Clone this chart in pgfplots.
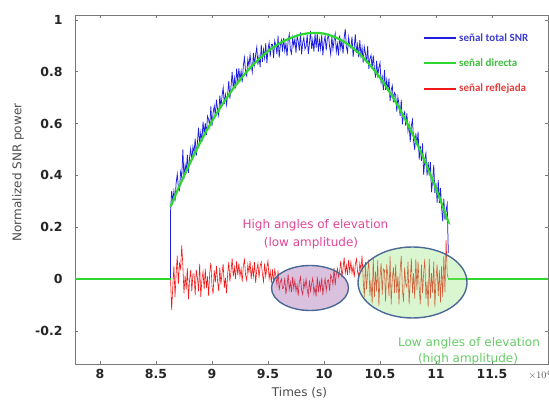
\documentclass[border=0pt]{standalone}
\usepackage{pgfplots}
\pgfplotsset{compat=1.18}
\usepackage{fontspec}
\setmainfont{DejaVu Sans}
\newfontfamily\calib{Carlito}
\definecolor{bluesig}{RGB}{30,30,225}
\definecolor{greensig}{RGB}{45,215,45}
\definecolor{redsig}{RGB}{240,25,25}
\definecolor{ellborder}{RGB}{75,105,150}
\definecolor{purpfill}{RGB}{150,80,160}
\definecolor{grnfill}{RGB}{150,230,120}
\definecolor{magtext}{RGB}{225,70,150}
\definecolor{grntext}{RGB}{100,205,100}
\definecolor{axgray}{RGB}{120,120,120}
\begin{document}
\begin{tikzpicture}
\begin{axis}[
  at={(0pt,0pt)}, anchor=south west,
  scale only axis, width=473pt, height=349pt,
  xmin=7.777, xmax=12.0, ymin=-0.328, ymax=1.019,
  clip=false,
  xtick={8,8.5,9,9.5,10,10.5,11,11.5},
  xticklabels={8,8.5,9,9.5,10,10.5,11,11.5},
  ytick={-0.2,0,0.2,0.4,0.6,0.8,1},
  yticklabels={-0.2,0,0.2,0.4,0.6,0.8,1},
  tick align=inside, major tick length=3pt,
  axis line style={axgray, line width=0.8pt},
  tick style={axgray, line width=0.6pt},
  /pgf/number format/assume math mode=true,
  ticklabel style={font=\fontsize{12.5}{14}\selectfont\bfseries, text=black!85},
  yticklabel style={xshift=-9pt},
  xticklabel style={yshift=-2pt},
  every axis y label/.style={at={(axis description cs:-0.1205,0.5487)}, rotate=90, anchor=center},
  every axis x label/.style={at={(axis description cs:0.4746,-0.0831)}, anchor=center},
  label style={font=\fontsize{12}{14}\selectfont, text=black!70},
  ylabel={Normalized SNR power},
  xlabel={Times (s)},
  legend style={at={(axis description cs:0.7357,0.953)}, anchor=north west, draw=none, fill=none, inner sep=0pt, row sep=12pt, font=\calib\bfseries\fontsize{11}{12}\selectfont, nodes={inner sep=2pt}},
  legend cell align=left,
  legend image code/.code={\draw[#1, line width=2pt] (0pt,0pt) -- (32pt,0pt);},
]
% total SNR signal (blue)
\addplot[bluesig, line width=0.75pt] coordinates {
(8.63,0) (8.63,0.26)
(8.64,0.34) (8.65,0.30) (8.66,0.34) (8.67,0.30) (8.68,0.37) (8.69,0.405) (8.70,0.355) (8.71,0.344) (8.72,0.414) (8.73,0.393)
(8.74,0.50) (8.75,0.387) (8.76,0.441) (8.77,0.416) (8.78,0.48) (8.79,0.41) (8.80,0.469) (8.81,0.503) (8.82,0.456) (8.83,0.51)
(8.84,0.489) (8.85,0.542) (8.86,0.476) (8.87,0.525) (8.88,0.584) (8.89,0.522) (8.90,0.566) (8.91,0.529) (8.92,0.607) (8.93,0.559)
(8.94,0.602) (8.95,0.555) (8.96,0.628) (8.97,0.616) (8.98,0.589) (8.99,0.666) (9.00,0.589) (9.01,0.641) (9.02,0.668) (9.03,0.63)
(9.04,0.692) (9.05,0.654) (9.06,0.631) (9.07,0.708) (9.08,0.665) (9.09,0.707) (9.10,0.739) (9.11,0.675) (9.12,0.711) (9.13,0.673)
(9.14,0.714) (9.15,0.765) (9.16,0.696) (9.17,0.742) (9.18,0.799) (9.19,0.735) (9.20,0.776) (9.21,0.736) (9.22,0.812) (9.23,0.762)
(9.24,0.813) (9.25,0.768) (9.26,0.803) (9.27,0.759) (9.28,0.824) (9.29,0.855) (9.30,0.80) (9.31,0.784) (9.32,0.848) (9.33,0.822)
(9.34,0.866) (9.35,0.825) (9.36,0.799) (9.37,0.873) (9.38,0.827) (9.39,0.866) (9.40,0.895) (9.41,0.828) (9.42,0.86) (9.43,0.818)
(9.44,0.905) (9.45,0.838) (9.46,0.885) (9.47,0.853) (9.48,0.91) (9.49,0.833) (9.50,0.885) (9.51,0.912) (9.52,0.858) (9.53,0.905)
(9.54,0.906) (9.55,0.853) (9.56,0.919) (9.57,0.901) (9.58,0.867) (9.59,0.939) (9.60,0.855) (9.61,0.901) (9.62,0.922) (9.63,0.878)
(9.64,0.93) (9.65,0.88) (9.66,0.91) (9.67,0.86) (9.68,0.92) (9.69,0.945) (9.70,0.885) (9.71,0.87) (9.72,0.93) (9.73,0.90)
(9.74,0.927) (9.75,0.872) (9.76,0.937) (9.77,0.917) (9.78,0.882) (9.79,0.952) (9.80,0.867) (9.81,0.912) (9.82,0.932) (9.83,0.887)
(9.84,0.898) (9.85,0.943) (9.86,0.868) (9.87,0.908) (9.88,0.958) (9.89,0.888) (9.90,0.923) (9.91,0.878) (9.92,0.948) (9.93,0.893)
(9.94,0.948) (9.95,0.878) (9.96,0.923) (9.97,0.888) (9.98,0.943) (9.99,0.863) (10.00,0.913) (10.01,0.938) (10.02,0.883) (10.03,0.928)
(10.04,0.942) (10.05,0.897) (10.06,0.867) (10.07,0.937) (10.08,0.887) (10.09,0.922) (10.10,0.947) (10.11,0.877) (10.12,0.907) (10.13,0.862)
(10.14,0.94) (10.15,0.89) (10.16,0.92) (10.17,0.87) (10.18,0.93) (10.19,0.965) (10.20,0.895) (10.21,0.875) (10.22,0.933) (10.23,0.90)
(10.24,0.892) (10.25,0.935) (10.26,0.858) (10.27,0.896) (10.28,0.944) (10.29,0.872) (10.30,0.905) (10.31,0.856) (10.32,0.922) (10.33,0.863)
(10.34,0.894) (10.35,0.835) (10.36,0.896) (10.37,0.872) (10.38,0.833) (10.39,0.899) (10.40,0.81) (10.41,0.85) (10.42,0.864) (10.43,0.814)
(10.44,0.863) (10.45,0.813) (10.46,0.777) (10.47,0.842) (10.48,0.786) (10.49,0.816) (10.50,0.835) (10.51,0.758) (10.52,0.781) (10.53,0.729)
(10.54,0.807) (10.55,0.73) (10.56,0.768) (10.57,0.726) (10.58,0.774) (10.59,0.687) (10.60,0.73) (10.61,0.746) (10.62,0.682) (10.63,0.719)
(10.64,0.71) (10.65,0.646) (10.66,0.702) (10.67,0.673) (10.68,0.63) (10.69,0.691) (10.70,0.597) (10.71,0.633) (10.72,0.645) (10.73,0.591)
(10.74,0.639) (10.75,0.57) (10.76,0.597) (10.77,0.529) (10.78,0.592) (10.79,0.614) (10.80,0.533) (10.81,0.499) (10.82,0.562) (10.83,0.516)
(10.84,0.569) (10.85,0.461) (10.86,0.514) (10.87,0.456) (10.88,0.523) (10.89,0.402) (10.90,0.462) (10.91,0.486) (10.92,0.399) (10.93,0.451)
(10.94,0.399) (10.95,0.451) (10.96,0.335) (10.97,0.381) (10.98,0.44) (10.99,0.332) (11.00,0.37) (11.01,0.295) (11.02,0.382) (11.03,0.293)
(11.04,0.352) (11.05,0.277) (11.06,0.223) (11.07,0.31) (11.08,0.228) (11.09,0.266) (11.10,0.289) (11.11,0.10)
};
\addlegendentry{\textcolor[RGB]{60,60,205}{señal total SNR}}
% direct signal (green)
\addplot[greensig, line width=2.2pt, smooth] coordinates {
(8.63,0.279) (8.7,0.350) (8.8,0.444) (8.9,0.531) (9.0,0.609) (9.1,0.679) (9.2,0.741) (9.3,0.795) (9.4,0.841)
(9.5,0.879) (9.6,0.909) (9.7,0.930) (9.8,0.944) (9.9,0.950) (10.0,0.947) (10.1,0.933) (10.2,0.910) (10.3,0.876)
(10.4,0.831) (10.5,0.777) (10.6,0.712) (10.7,0.637) (10.8,0.551) (10.9,0.455) (11.0,0.349) (11.1,0.233) (11.11,0.220)
};
\addlegendentry{\textcolor[RGB]{60,190,60}{señal directa}}
% reflected signal (red)
\addplot[redsig, line width=0.6pt] coordinates {
(8.63,0.00)
(8.64,-0.12) (8.65,-0.03) (8.66,0.05) (8.67,-0.07) (8.68,0.02) (8.69,0.09) (8.70,-0.02) (8.71,0.06) (8.72,0.04) (8.73,0.13)
(8.74,0.05) (8.75,-0.055) (8.76,0.013) (8.77,-0.04) (8.78,0.043) (8.79,-0.078) (8.80,-0.003) (8.81,0.035) (8.82,-0.048) (8.83,0.02)
(8.84,0.02) (8.85,-0.063) (8.86,0.035) (8.87,0.005) (8.88,-0.048) (8.89,0.058) (8.90,-0.07) (8.91,-0.003) (8.92,0.028) (8.93,-0.04)
(8.94,0.04) (8.95,-0.035) (8.96,0.01) (8.97,-0.065) (8.98,0.025) (8.99,0.063) (9.00,-0.028) (9.01,-0.058) (9.02,0.033) (9.03,-0.013)
(9.04,0.05) (9.05,-0.008) (9.06,-0.047) (9.07,0.044) (9.08,-0.021) (9.09,0.025) (9.10,0.057) (9.11,-0.034) (9.12,0.005) (9.13,-0.054)
(9.14,0.02) (9.15,0.065) (9.16,-0.01) (9.17,0.03) (9.18,0.08) (9.19,0.01) (9.20,0.045) (9.21,0.0) (9.22,0.07) (9.23,0.015)
(9.24,0.06) (9.25,0.01) (9.26,0.04) (9.27,-0.01) (9.28,0.05) (9.29,0.075) (9.30,0.015) (9.31,-0.005) (9.32,0.055) (9.33,0.025)
(9.34,0.07) (9.35,0.0) (9.36,0.045) (9.37,0.01) (9.38,0.065) (9.39,-0.015) (9.40,0.035) (9.41,0.06) (9.42,0.005) (9.43,0.05)
(9.44,0.065) (9.45,0.02) (9.46,-0.01) (9.47,0.06) (9.48,0.01) (9.49,0.045) (9.50,0.07) (9.51,0.0) (9.52,0.03) (9.53,-0.015)
(9.54,0.037) (9.55,-0.015) (9.56,0.036) (9.57,0.014) (9.58,-0.021) (9.59,0.033) (9.60,-0.044) (9.61,-0.011) (9.62,0.001) (9.63,-0.037)
(9.64,-0.034) (9.65,0.005) (9.66,-0.059) (9.67,-0.025) (9.68,0.018) (9.69,-0.042) (9.70,-0.012) (9.71,-0.05) (9.72,0.009) (9.73,-0.038)
(9.74,-0.005) (9.75,-0.047) (9.76,-0.022) (9.77,-0.064) (9.78,-0.013) (9.79,0.008) (9.80,-0.043) (9.81,-0.06) (9.82,-0.009) (9.83,-0.034)
(9.84,0.0) (9.85,-0.039) (9.86,-0.064) (9.87,-0.005) (9.88,-0.047) (9.89,-0.017) (9.90,0.004) (9.91,-0.056) (9.92,-0.03) (9.93,-0.068)
(9.94,0.009) (9.95,-0.051) (9.96,-0.012) (9.97,-0.042) (9.98,0.005) (9.99,-0.063) (10.00,-0.021) (10.01,0.001) (10.02,-0.046) (10.03,-0.008)
(10.04,-0.003) (10.05,-0.045) (10.06,0.016) (10.07,0.004) (10.08,-0.021) (10.09,0.043) (10.10,-0.024) (10.11,0.019) (10.12,0.041) (10.13,0.008)
(10.14,0.032) (10.15,0.07) (10.16,0.006) (10.17,0.04) (10.18,0.083) (10.19,0.023) (10.20,0.053) (10.21,0.015) (10.22,0.074) (10.23,0.027)
(10.24,0.066) (10.25,0.023) (10.26,0.049) (10.27,0.006) (10.28,0.057) (10.29,0.078) (10.30,0.027) (10.31,0.01) (10.32,0.061) (10.33,0.036)
(10.34,0.09) (10.35,-0.005) (10.36,-0.07) (10.37,0.065) (10.38,-0.04) (10.39,0.025) (10.40,0.075) (10.41,-0.065) (10.42,-0.005) (10.43,-0.095)
(10.44,0.083) (10.45,-0.071) (10.46,0.028) (10.47,-0.049) (10.48,0.072) (10.49,-0.104) (10.50,0.006) (10.51,0.061) (10.52,-0.06) (10.53,0.039)
(10.54,0.034) (10.55,-0.087) (10.56,0.056) (10.57,0.012) (10.58,-0.065) (10.59,0.089) (10.60,-0.098) (10.61,0.001) (10.62,0.045) (10.63,-0.054)
(10.64,0.056) (10.65,-0.054) (10.66,0.012) (10.67,-0.098) (10.68,0.034) (10.69,0.089) (10.70,-0.043) (10.71,-0.087) (10.72,0.045) (10.73,-0.021)
(10.74,-0.032) (10.75,0.067) (10.76,-0.098) (10.77,-0.01) (10.78,0.08) (10.79,-0.054) (10.80,0.023) (10.81,-0.076) (10.82,0.078) (10.83,-0.043)
(10.84,0.067) (10.85,-0.032) (10.86,-0.098) (10.87,0.056) (10.88,-0.054) (10.89,0.023) (10.90,0.078) (10.91,-0.076) (10.92,-0.01) (10.93,-0.109)
(10.94,0.078) (10.95,-0.076) (10.96,0.023) (10.97,-0.054) (10.98,0.067) (10.99,-0.109) (11.00,0.001) (11.01,0.056) (11.02,-0.065) (11.03,0.034)
(11.04,-0.09) (11.05,0.05) (11.06,-0.07) (11.07,0.09) (11.08,-0.05) (11.09,0.15) (11.10,0.02) (11.11,0.0)
};
\addlegendentry{\textcolor[RGB]{230,60,60}{señal reflejada}}
% direct signal outside the pass (zero)
\addplot[greensig, line width=2.2pt, forget plot] coordinates {(7.777,0) (8.63,0)};
\addplot[greensig, line width=2.2pt, forget plot] coordinates {(11.11,0) (12.0,0)};
% annotations
\node[text=magtext, font=\fontsize{12}{14}\selectfont] at (axis cs:9.924,0.2085) {High angles of elevation};
\node[text=magtext, font=\fontsize{12}{14}\selectfont] at (axis cs:9.884,0.139) {(low amplitude)};
\node[text=grntext, font=\fontsize{12}{14}\selectfont] at (axis cs:11.295,-0.247) {Low angles of elevation};
\node[text=grntext, font=\fontsize{12}{14}\selectfont] at (axis cs:11.286,-0.309) {(high amplitude)};
\end{axis}
% highlight ellipses
\draw[ellborder, line width=1.4pt, fill=purpfill, fill opacity=0.35] (235pt,76pt) ellipse [x radius=38.5pt, y radius=22.5pt];
\draw[ellborder, line width=1.4pt, fill=grnfill, fill opacity=0.35] (337.5pt,81.5pt) ellipse [x radius=54.5pt, y radius=35.5pt];
\node[anchor=west, text=black!70, font=\fontsize{10}{12}\selectfont] at (450pt,-11pt) {$\times10^{4}$};
\pgfresetboundingbox
\path (-75pt,-37pt) rectangle (474pt,364pt);
\end{tikzpicture}
\end{document}
